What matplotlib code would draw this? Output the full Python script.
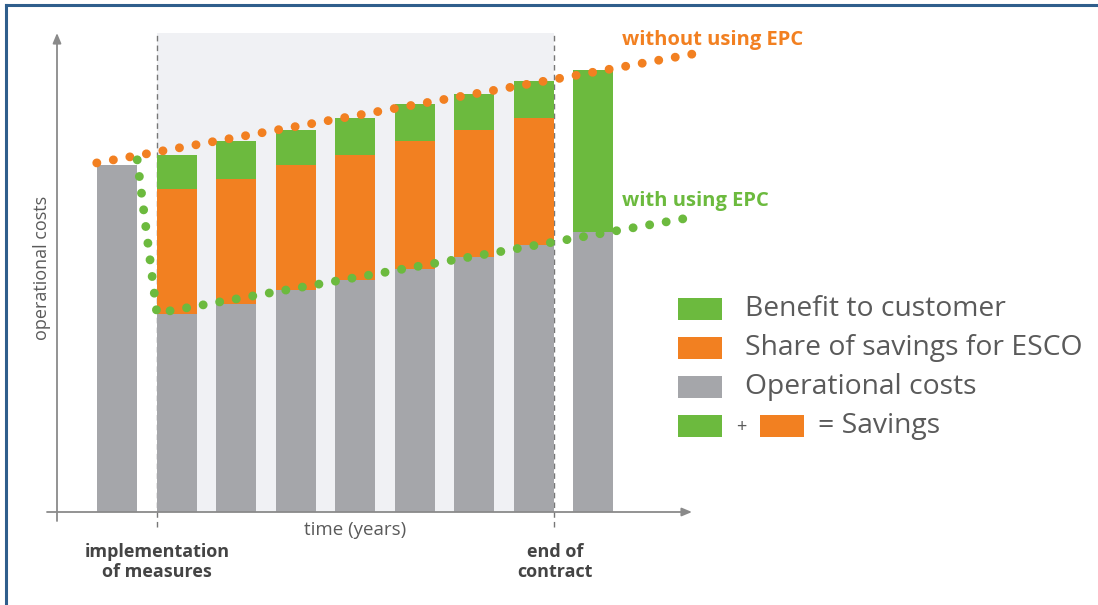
import matplotlib
matplotlib.use("Agg")
import matplotlib.pyplot as plt
from matplotlib.patches import Rectangle
from matplotlib.lines import Line2D
import numpy as np

# ---------------- data ----------------
bar_index = [0, 1, 2, 3, 4, 5, 6, 7, 8]
operational_costs = [100, 57, 60, 64, 67, 70, 73.5, 77, 80.7]
esco_share = [0, 36, 36, 36, 36, 37, 36.5, 36.5, 0]
customer_benefit = [0, 10, 11, 10, 10.5, 10.5, 10.5, 10.7, 46.7]

without_epc_x = [-0.34, 9.68]
without_epc_y = [100.6, 132.0]
with_epc_x = [0.34, 0.67, 9.68]
with_epc_y = [101.5, 57.3, 85.0]

legend_labels = ["Benefit to customer", "Share of savings for ESCO", "Operational costs"]
line_labels = ["without using EPC", "with using EPC"]
axis_labels = ["operational costs", "time (years)"]
milestones = ["implementation\nof measures", "end of\ncontract"]

# ---------------- style ----------------
GREEN = "#6CBA3E"
ORANGE = "#F28021"
GREY = "#A5A6AA"
SHADE = "#F0F1F4"
TXT = "#5A5A5A"
BORDER = "#2F5E8C"
FONT = "Open Sans"

W, H = 1098, 605
fig = plt.figure(figsize=(W / 100, H / 100), dpi=100)
ax = fig.add_axes([0, 0, 1, 1])
ax.set_axis_off()

# pixel <-> data mapping (bar pitch 59.5 px, 3.47 px per unit)
X0, PITCH = 117, 59.5
Y0, SCALE = 512, 3.47
ax.set_xlim((0 - X0) / PITCH, (W - X0) / PITCH)
ax.set_ylim((Y0 - H) / SCALE, (Y0 - 0) / SCALE)

def fx(px):
    return px / W

def fy(py):
    return 1 - py / H

bw = 40 / PITCH

# contract period shading and dashed limits
left_edge = 1 - bw / 2
right_edge = 7 + bw / 2
top_val = (Y0 - 33) / SCALE
ax.add_patch(Rectangle((left_edge, 0), right_edge - left_edge, top_val,
                       facecolor=SHADE, edgecolor="none", zorder=0))
for xe in (left_edge, right_edge):
    ax.plot([xe, xe], [-(527 - Y0) / SCALE, top_val], color="#777777",
            lw=1.0, ls=(0, (4, 3)), zorder=1)

# bars
bottoms2 = np.array(operational_costs)
bottoms3 = bottoms2 + np.array(esco_share)
ax.bar(bar_index, operational_costs, width=bw, color=GREY, zorder=2, linewidth=0)
ax.bar(bar_index, esco_share, width=bw, bottom=bottoms2, color=ORANGE, zorder=2, linewidth=0)
ax.bar(bar_index, customer_benefit, width=bw, bottom=bottoms3, color=GREEN, zorder=2, linewidth=0)

# axes with arrows
x_ax_start = (47 - X0) / PITCH
x_ax_end = (692 - X0) / PITCH
y_ax_x = (57 - X0) / PITCH
ax.annotate("", xy=(x_ax_end, 0), xytext=(x_ax_start, 0),
            arrowprops=dict(arrowstyle="-|>,head_length=0.6,head_width=0.25",
                            color="#8A8A8A", lw=1.3, shrinkA=0, shrinkB=0), zorder=3)
ax.annotate("", xy=(y_ax_x, (Y0 - 33) / SCALE), xytext=(y_ax_x, -(521 - Y0) / SCALE),
            arrowprops=dict(arrowstyle="-|>,head_length=0.6,head_width=0.25",
                            color="#8A8A8A", lw=1.3, shrinkA=0, shrinkB=0), zorder=3)

# dotted lines
ax.plot(without_epc_x, without_epc_y, color=ORANGE, lw=6.4,
        ls=(0, (0.01, 1.88)), dash_capstyle="round", zorder=4)
ax.plot(with_epc_x, with_epc_y, color=GREEN, lw=6.4,
        ls=(0, (0.01, 1.88)), dash_capstyle="round", zorder=4)

# line labels
fig.text(fx(622), fy(40), line_labels[0], color=ORANGE, fontsize=14.5,
         fontweight="bold", family=FONT, ha="left", va="center")
fig.text(fx(622), fy(201), line_labels[1], color=GREEN, fontsize=14.5,
         fontweight="bold", family=FONT, ha="left", va="center")

# axis labels
fig.text(fx(42), fy(268), axis_labels[0], color=TXT, fontsize=13, family=FONT,
         rotation=90, ha="center", va="center")
fig.text(fx(355), fy(530), axis_labels[1], color=TXT, fontsize=13.5, family=FONT,
         ha="center", va="center")
fig.text(fx(157), fy(562), milestones[0], color="#444444", fontsize=13, family=FONT,
         fontweight="bold", ha="center", va="center", linespacing=1.2)
fig.text(fx(555), fy(562), milestones[1], color="#444444", fontsize=13, family=FONT,
         fontweight="bold", ha="center", va="center", linespacing=1.2)

# legend
leg_colors = [GREEN, ORANGE, GREY]
rows = [309, 348, 387]
for lab, col, ry in zip(legend_labels, leg_colors, rows):
    fig.add_artist(Rectangle((fx(678), fy(ry + 11)), 44 / W, 22 / H,
                             transform=fig.transFigure, facecolor=col, edgecolor="none"))
    fig.text(fx(745), fy(ry), lab, color=TXT, fontsize=20.3, family=FONT,
             ha="left", va="center")
ry = 426
fig.add_artist(Rectangle((fx(678), fy(ry + 11)), 44 / W, 22 / H,
                         transform=fig.transFigure, facecolor=GREEN, edgecolor="none"))
fig.text(fx(741), fy(ry + 1), "+", color=TXT, fontsize=13, family=FONT, ha="center", va="center")
fig.add_artist(Rectangle((fx(760), fy(ry + 11)), 44 / W, 22 / H,
                         transform=fig.transFigure, facecolor=ORANGE, edgecolor="none"))
fig.text(fx(818), fy(ry), "= Savings", color=TXT, fontsize=20.3, family=FONT,
         ha="left", va="center")

# outer frame (top and left edges)
fig.add_artist(Line2D([fx(6), fx(W)], [fy(5), fy(5)], transform=fig.transFigure,
                      color=BORDER, lw=2.2))
fig.add_artist(Line2D([fx(6), fx(6)], [fy(5), fy(H)], transform=fig.transFigure,
                      color=BORDER, lw=2.2))

fig.savefig("out.png", dpi=100)
